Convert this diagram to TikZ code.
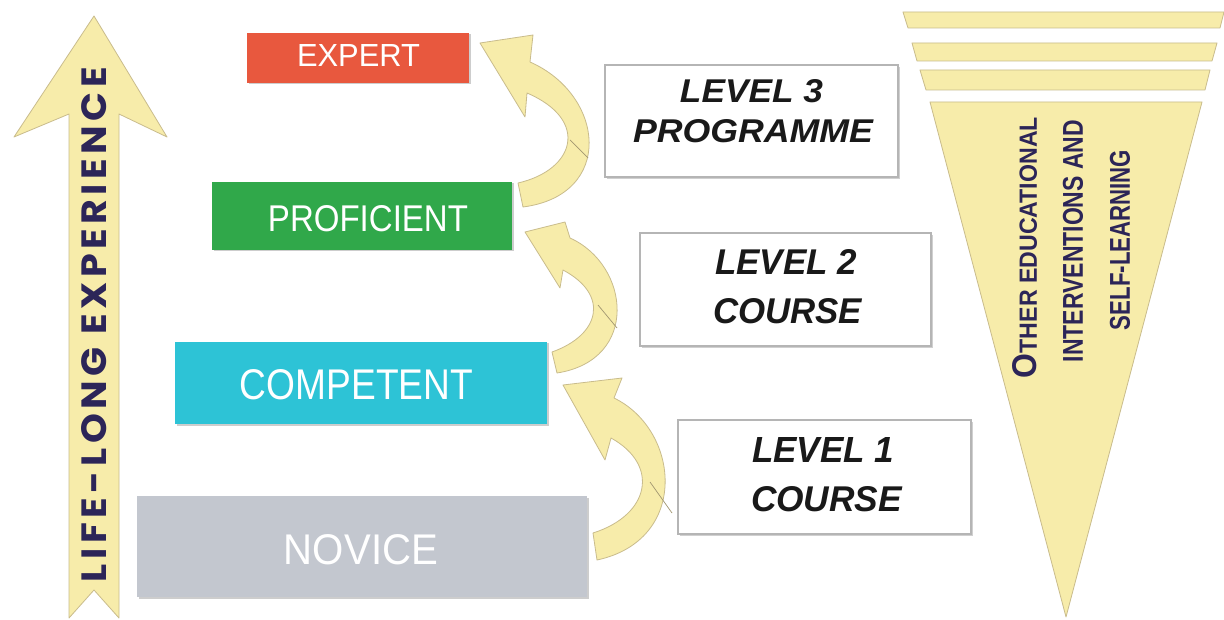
\documentclass[tikz,border=0pt]{standalone}
\usepackage{fontspec}
\setmainfont{Liberation Sans}
\newfontfamily\lifefont[LetterSpace=12]{Poppins}
\newfontfamily\boxfont{Liberation Sans}
\newfontfamily\lvlfont{Liberation Sans}
\usetikzlibrary{shadows}
\definecolor{expertred}{HTML}{E8583E}
\definecolor{profgreen}{HTML}{30A84A}
\definecolor{compcyan}{HTML}{2DC3D6}
\definecolor{novgrey}{HTML}{C3C7CF}
\definecolor{pale}{HTML}{F7ECAA}
\definecolor{paleedge}{HTML}{C9BC8C}
\definecolor{navy}{HTML}{2C2558}
\definecolor{lvledge}{HTML}{B5B5B5}
\newcommand{\fitto}[3]{\resizebox{#1pt}{#2pt}{#3}}
\begin{document}
\begin{tikzpicture}[x=1pt,y=-1pt,
  stagebox/.style={rectangle, inner sep=0pt, draw=none,
    drop shadow={shadow xshift=1.5pt, shadow yshift=-1.5pt, fill=gray!55, opacity=0.7}},
  stagetext/.style={inner sep=0pt, text=white, font=\boxfont},
  levelbox/.style={rectangle, inner sep=0pt, fill=white, draw=lvledge, line width=1.2pt,
    drop shadow={shadow xshift=2pt, shadow yshift=-2pt, fill=gray!60, opacity=0.6}},
  leveltext/.style={inner sep=0pt, text=black!90, font=\lvlfont\bfseries\itshape},
  ribbon/.style={fill=pale, draw=paleedge, line width=0.8pt, line join=round},
  twist/.style={draw=paleedge!80!black, line width=0.7pt},
  navytext/.style={inner sep=0pt, text=navy, rotate=90}
]
\useasboundingbox[fill=white] (0,0) rectangle (1224,620);

% life-long experience arrow
\path[ribbon] (94,16) -- (167,137) -- (119,114) -- (119,618) -- (94,590)
  -- (69,618) -- (69,114) -- (14,137) -- cycle;
\node[navytext] (life) at (94,324.5) {\fitto{515}{25}{\lifefont\bfseries LIFE-LONG EXPERIENCE}};

% stage boxes
\node[stagebox, fill=expertred, minimum width=222pt, minimum height=50pt] (expert) at (358,58) {};
\node[stagebox, fill=profgreen, minimum width=300pt, minimum height=68pt] (proficient) at (362,216) {};
\node[stagebox, fill=compcyan, minimum width=372pt, minimum height=82pt] (competent) at (361,383) {};
\node[stagebox, fill=novgrey, minimum width=450pt, minimum height=101pt] (novice) at (362,546.5) {};
\node[stagetext] (texpert) at (358.5,56) {\fitto{123}{22}{EXPERT}};
\node[stagetext] (tprof) at (368,218.5) {\fitto{200}{26}{PROFICIENT}};
\node[stagetext] (tcomp) at (356.5,385) {\fitto{233}{30}{COMPETENT}};
\node[stagetext] (tnov) at (361,550) {\fitto{154}{30}{NOVICE}};

% level boxes
\node[levelbox, minimum width=293pt, minimum height=112pt] (l3) at (751.5,121) {};
\node[levelbox, minimum width=291pt, minimum height=113pt] (l2) at (785.5,289.5) {};
\node[levelbox, minimum width=293pt, minimum height=114pt] (l1) at (824.5,477) {};
\node[leveltext] (l3a) at (751.5,91.5) {\fitto{143}{23}{LEVEL 3}};
\node[leveltext] (l3b) at (753,131.5) {\fitto{240}{23}{PROGRAMME}};
\node[leveltext] (l2a) at (786,262.5) {\fitto{142}{25}{LEVEL 2}};
\node[leveltext] (l2b) at (787.5,311.5) {\fitto{149}{25}{COURSE}};
\node[leveltext] (l1a) at (823,449.5) {\fitto{142}{25}{LEVEL 1}};
\node[leveltext] (l1b) at (826.5,499) {\fitto{151}{25}{COURSE}};

% curved arrows
\path[ribbon] (593,533) .. controls (650,515) and (660,465) .. (611,438) -- (605,460)
  -- (563,385) -- (622,378) -- (614,398) .. controls (680,430) and (690,540) .. (597,560) -- cycle;
\draw[twist] (650,482) -- (672,513);
\path[ribbon] (552,352) .. controls (600,335) and (610,295) .. (563,270) -- (560,288)
  -- (525,232) -- (565,222) -- (570,238) .. controls (630,265) and (640,360) .. (557,373) -- cycle;
\draw[twist] (598,305) -- (617,328);
\path[ribbon] (518,183) .. controls (575,170) and (590,120) .. (527,93) -- (525,117)
  -- (480,43) -- (533,35) -- (530,62) .. controls (605,95) and (615,195) .. (523,207) -- cycle;
\draw[twist] (570,140) -- (588,158);

% funnel
\path[ribbon] (903,12) -- (1224,12) -- (1220,28) -- (908,28) -- cycle;
\path[ribbon] (912,43) -- (1217,43) -- (1212,61) -- (917,61) -- cycle;
\path[ribbon] (920,70) -- (1210,70) -- (1205,90) -- (926,90) -- cycle;
\path[ribbon] (930,102) -- (1202,102) -- (1066,617) -- cycle;
\node[navytext] (f1) at (1025,247.5) {\fitto{261}{24}{\bfseries\fontsize{20}{22}\selectfont O\fontsize{14.5}{16}\selectfont THER EDUCATIONAL}};
\node[navytext] (f2) at (1073,241) {\fitto{242}{20}{\bfseries INTERVENTIONS AND}};
\node[navytext] (f3) at (1120,240) {\fitto{180}{20}{\bfseries SELF-LEARNING}};
\end{tikzpicture}
\end{document}
